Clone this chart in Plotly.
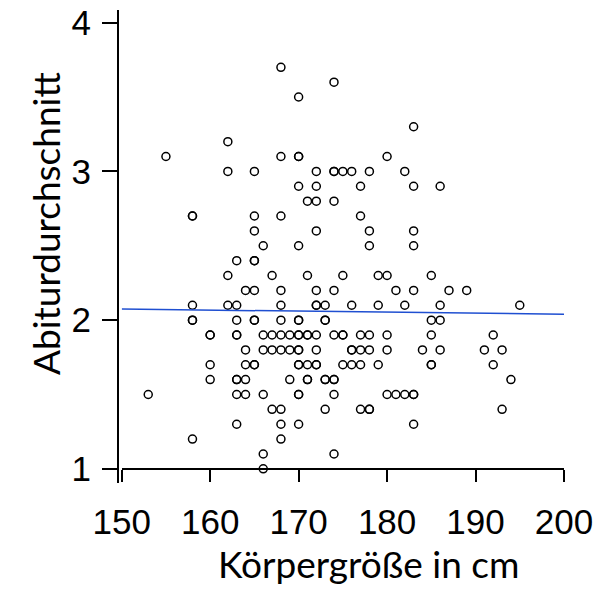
import numpy as np
import plotly.graph_objects as go

# Körpergröße (cm) and Abiturdurchschnitt
koerpergroesse = [
    168, 174, 170, 183, 162,
    155, 168, 170, 170, 180,
    162, 165, 172, 174, 174, 175, 176, 178, 182,
    170, 172, 177, 183, 186,
    171, 172, 174,
    158, 158, 165, 168, 177,
    165, 172, 178, 183,
    166, 170, 178, 183,
    163, 165, 165,
    162, 167, 171, 175, 179, 180, 185,
    164, 165, 168, 172, 174, 181, 183, 187, 189,
    158, 162, 163, 168, 172, 172, 173, 176, 179, 182, 186, 195,
    158, 158, 163, 165, 165, 168, 170, 170, 173, 173, 185, 186,
    160, 160, 163, 163, 166, 167, 168, 169, 170, 170, 171, 171, 172, 174, 175, 175, 177, 178, 180, 185, 192,
    164, 166, 167, 168, 169, 170, 170, 172, 176, 176, 177, 178, 180, 184, 186, 191, 193,
    160, 164, 165, 165, 170, 170, 171, 172, 172, 175, 176, 177, 179, 185, 185, 192,
    160, 163, 163, 164, 169, 171, 171, 173, 173, 174, 174, 194,
    153, 163, 164, 166, 170, 170, 174, 180, 181, 182, 183, 183,
    167, 168, 173, 177, 178, 178, 193,
    163, 168, 170, 183,
    158, 168,
    166, 174,
    166,
]
abiturschnitt = (
    [3.7] * 1 + [3.6] * 1 + [3.5] * 1 + [3.3] * 1 + [3.2] * 1
    + [3.1] * 5 + [3.0] * 9 + [2.9] * 5 + [2.8] * 3 + [2.7] * 5
    + [2.6] * 4 + [2.5] * 4 + [2.4] * 3 + [2.3] * 7 + [2.2] * 9
    + [2.1] * 12 + [2.0] * 12 + [1.9] * 21 + [1.8] * 17 + [1.7] * 16
    + [1.6] * 12 + [1.5] * 12 + [1.4] * 7 + [1.3] * 4 + [1.2] * 2
    + [1.1] * 2 + [1.0] * 1
)

x_range = [150, 200]
x_ticks = [150, 160, 170, 180, 190, 200]
y_ticks = [1, 2, 3, 4]

slope, intercept = np.polyfit(koerpergroesse, abiturschnitt, 1)
fit_x = np.array(x_range, dtype=float)
fit_y = slope * fit_x + intercept

fig = go.Figure()
fig.add_trace(go.Scatter(
    x=koerpergroesse, y=abiturschnitt, mode="markers",
    marker=dict(symbol="circle", size=8, color="rgba(0,0,0,0)",
                line=dict(color="black", width=1.5)),
    showlegend=False, hoverinfo="x+y",
))
fig.add_trace(go.Scatter(
    x=fit_x, y=fit_y, mode="lines",
    line=dict(color="#1f4fd1", width=1.5),
    showlegend=False,
))

tick_font = dict(family="Liberation Sans, Arial, sans-serif", size=35, color="black")

fig.update_layout(
    width=607, height=590,
    margin=dict(l=118, r=43, t=10, b=107, autoexpand=False),
    plot_bgcolor="white", paper_bgcolor="white",
    xaxis=dict(
        domain=[0.0083, 1], range=x_range, tickvals=x_ticks,
        showgrid=False, zeroline=False, automargin=False,
        showline=True, linecolor="black", linewidth=2,
        ticks="outside", ticklen=12, tickwidth=2, tickcolor="black",
        tickfont=tick_font, ticklabelstandoff=10,
        anchor="free", position=(1 - 0.905) / (4.085 - 0.905),
    ),
    yaxis=dict(
        range=[0.905, 4.085], tickvals=y_ticks,
        showgrid=False, zeroline=False, automargin=False,
        showline=True, linecolor="black", linewidth=2,
        ticks="outside", ticklen=15, tickwidth=2, tickcolor="black",
        tickfont=tick_font, ticklabelstandoff=4,
        anchor="free", position=0,
    ),
    annotations=[
        dict(text="Körpergröße in cm", xref="paper", yref="paper",
             x=(368 - 118) / 446, y=(483 - 563) / 473,
             xanchor="center", yanchor="middle", showarrow=False,
             font=dict(family="Lato, sans-serif", size=37, color="black")),
        dict(text="Abiturdurchschnitt", xref="paper", yref="paper",
             x=(45 - 118) / 446, y=(483 - 224) / 473, textangle=-90,
             xanchor="center", yanchor="middle", showarrow=False,
             font=dict(family="Lato, sans-serif", size=37, color="black")),
    ],
)

fig.write_html("out.html", config={"displayModeBar": False},
               post_script="document.body.style.margin='0';")
